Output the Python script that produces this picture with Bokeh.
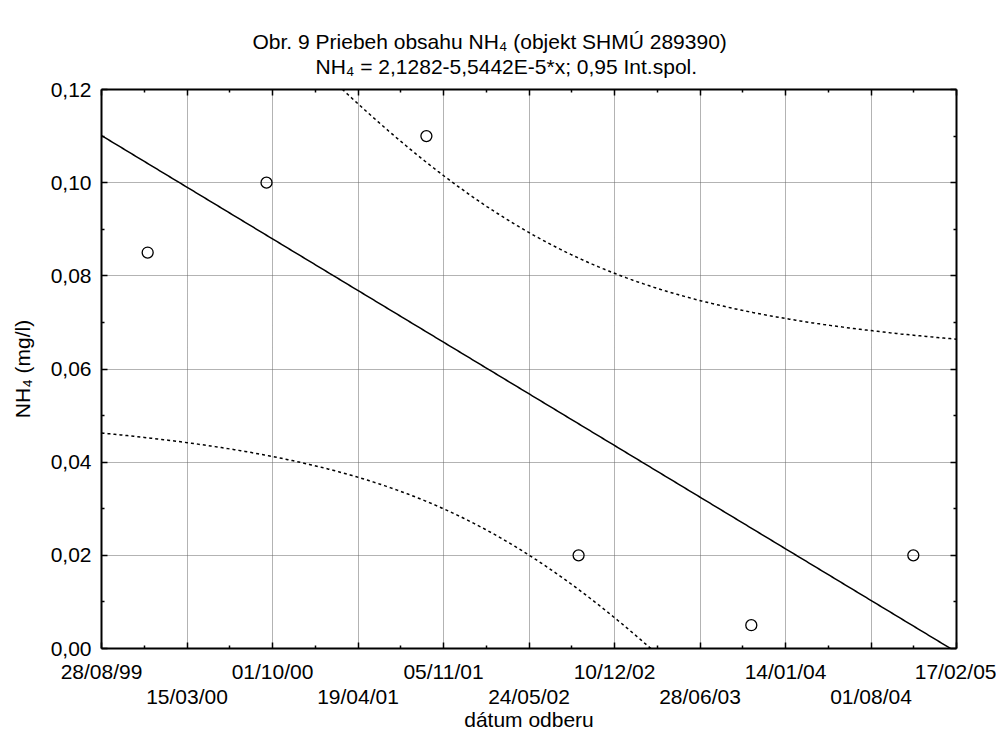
import numpy as np
from bokeh.plotting import figure
from bokeh.models import FixedTicker, LinearAxis, Range1d, Grid, Title
from bokeh.embed import file_html
from bokeh.resources import INLINE

# ---- data (x = date as spreadsheet serial day number) ----
sample_day = [36508, 36786, 37160, 37516, 37920, 38299]
nh4 = [0.085, 0.100, 0.110, 0.020, 0.005, 0.020]

x_ticks = [36400, 36600, 36800, 37000, 37200, 37400, 37600, 37800, 38000, 38200, 38400]
x_tick_labels = ["28/08/99", "15/03/00", "01/10/00", "19/04/01", "05/11/01", "24/05/02",
                 "10/12/02", "28/06/03", "14/01/04", "01/08/04", "17/02/05"]
y_ticks = [0.0, 0.02, 0.04, 0.06, 0.08, 0.10, 0.12]
y_tick_labels = ["0,00", "0,02", "0,04", "0,06", "0,08", "0,10", "0,12"]

intercept = 2.1282
slope = -5.5442e-5
t_crit = 2.776  # Student t, 0.975, df = n - 2 = 4

title1 = "Obr. 9 Priebeh obsahu NH\u2084 (objekt SHMÚ 289390)"
title2 = "NH\u2084 = 2,1282-5,5442E-5*x; 0,95 Int.spol."
x_label = "dátum odberu"
y_label = "NH\u2084 (mg/l)"

FONT = "Liberation Sans"
FS = "21px"

# ---- regression line and 95% confidence band ----
xd = np.array(sample_day, dtype=float)
yd = np.array(nh4)
xs = np.linspace(x_ticks[0], x_ticks[-1], 400)
yhat = intercept + slope * xs
resid = yd - (intercept + slope * xd)
s = np.sqrt(np.sum(resid ** 2) / (len(xd) - 2))
sxx = np.sum((xd - xd.mean()) ** 2)
half = t_crit * s * np.sqrt(1.0 / len(xd) + (xs - xd.mean()) ** 2 / sxx)

p = figure(width=996, height=736,
           x_range=Range1d(x_ticks[0], x_ticks[-1]), y_range=Range1d(y_ticks[0], y_ticks[-1]),
           x_axis_type=None, y_axis_type=None,
           output_backend="svg", toolbar_location=None,
           min_border_left=101, min_border_right=40, min_border_top=89, min_border_bottom=88,
           background_fill_color="white", border_fill_color="white", outline_line_color=None)

xminor = [(a + b) / 2 for a, b in zip(x_ticks[:-1], x_ticks[1:])]
yminor = [(a + b) / 2 for a, b in zip(y_ticks[:-1], y_ticks[1:])]
xt = FixedTicker(ticks=x_ticks, minor_ticks=xminor)
yt = FixedTicker(ticks=y_ticks, minor_ticks=yminor)

p.add_layout(Grid(dimension=0, ticker=xt, grid_line_color="#666666", grid_line_dash="1 1",
                  grid_line_width=1))
p.add_layout(Grid(dimension=1, ticker=yt, grid_line_color="#666666", grid_line_dash="1 1",
                  grid_line_width=1))


def style(ax, labels=True):
    ax.axis_line_color = "black"
    ax.axis_line_width = 2
    ax.major_tick_in = 6
    ax.major_tick_out = 0
    ax.minor_tick_in = 3
    ax.minor_tick_out = 0
    ax.major_tick_line_width = 1.5
    ax.minor_tick_line_width = 1.5
    ax.major_tick_line_color = "black"
    ax.minor_tick_line_color = "black"
    ax.major_label_text_font = FONT
    ax.major_label_text_font_size = FS
    ax.major_label_text_color = "black" if labels else None
    ax.axis_label_text_font = FONT
    ax.axis_label_text_font_size = FS
    ax.axis_label_text_font_style = "normal"
    ax.axis_label_text_color = "black"


# bottom axis: labels alternate between two rows
xb = LinearAxis(ticker=xt)
style(xb)
xb.major_label_overrides = {t: (lab if i % 2 == 0 else "\n" + lab)
                            for i, (t, lab) in enumerate(zip(x_ticks, x_tick_labels))}
xb.major_label_text_line_height = 1.1
xb.major_label_standoff = 11
xb.axis_label = x_label
xb.axis_label_standoff = -3
p.add_layout(xb, "below")

yl = LinearAxis(ticker=yt)
style(yl)
yl.major_label_overrides = {t: lab for t, lab in zip(y_ticks, y_tick_labels)}
yl.major_label_standoff = 10
yl.axis_label = y_label
yl.axis_label_standoff = 14
p.add_layout(yl, "left")

xa = LinearAxis(ticker=xt)
style(xa, labels=False)
xa.major_label_standoff = 0
p.add_layout(xa, "above")
yr = LinearAxis(ticker=yt)
style(yr, labels=False)
yr.major_label_standoff = 0
p.add_layout(yr, "right")

# confidence band and fit
p.line(xs, yhat + half, line_color="black", line_width=1.5, line_dash="3 3")
p.line(xs, yhat - half, line_color="black", line_width=1.5, line_dash="3 3")
p.line(xs, yhat, line_color="black", line_width=1.5)
p.scatter(sample_day, nh4, marker="circle", size=11, fill_color=None,
          line_color="black", line_width=1.3)

# titles
t2 = Title(text=title2, align="left", offset=214, text_font=FONT, text_font_size=FS,
           text_font_style="normal", text_color="black", standoff=23)
t1 = Title(text=title1, align="left", offset=151, text_font=FONT, text_font_size=FS,
           text_font_style="normal", text_color="black", standoff=-23)
p.add_layout(t2, "above")
p.add_layout(t1, "above")

open("out.html", "w").write(file_html(p, INLINE))
